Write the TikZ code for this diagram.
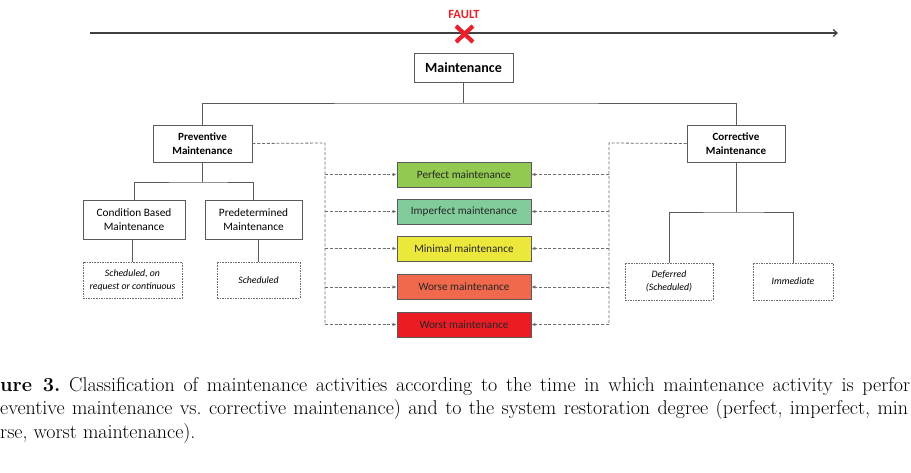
\documentclass[tikz,border=0pt]{standalone}
\usepackage{fontspec}
\newfontfamily\calib{Carlito}
\usetikzlibrary{arrows.meta}
\definecolor{linegray}{HTML}{5A5A5A}
\definecolor{dashgray}{HTML}{6E6E6E}
\definecolor{cperfect}{HTML}{92C950}
\definecolor{cimperfect}{HTML}{82CC9C}
\definecolor{cminimal}{HTML}{EBE73B}
\definecolor{cworse}{HTML}{F0694C}
\definecolor{cworst}{HTML}{EC1C24}
\definecolor{faultred}{HTML}{E8202A}
\tikzset{
  x=1pt, y=-1pt,
  mainbox/.style={draw=linegray, line width=0.9pt, fill=white, inner sep=0pt, align=center, font=\calib\bfseries},
  subbox/.style={draw=linegray, line width=0.9pt, fill=white, inner sep=0pt, align=center, font=\calib\fontsize{11.3}{13.5}\selectfont},
  leafbox/.style={draw=dashgray, line width=0.8pt, dash pattern=on 1.6pt off 1pt, inner sep=0pt, align=center, font=\calib\itshape\fontsize{9.8}{13}\selectfont},
  degbox/.style={draw=linegray, line width=0.8pt, inner sep=0pt, minimum width=134pt, minimum height=25pt, font=\calib\fontsize{11.2}{13}\selectfont, text=black!85},
  tree/.style={draw=linegray, line width=0.9pt},
  dashline/.style={draw=dashgray, line width=0.8pt, dash pattern=on 3pt off 1.8pt},
  dasharrow/.style={dashline, -{Latex[length=4pt,width=3.5pt]}},
  captxt/.style={inner sep=0pt, anchor=base west, font=\frenchspacing\fontsize{20}{24}\selectfont, text=black},
}
\begin{document}
\begin{tikzpicture}
\useasboundingbox (0,0) rectangle (911,472);
\fill[white] (0,0) rectangle (911,472);

% timeline
\coordinate (tl) at (90,33);
\coordinate (tr) at (838,33);
\draw[line width=1.2pt, draw=black!75, -{Straight Barb[length=4pt,width=7pt]}] (tl) -- (tr);
\node[font=\calib\bfseries\fontsize{12.5}{14}\selectfont, text=faultred, inner sep=0pt] (fault) at (464,14) {FAULT};
\draw[faultred, line width=4.2pt] (456,26) -- (473,42) (473,26) -- (456,42);

% main boxes
\node[mainbox, minimum width=99pt, minimum height=29pt, font=\calib\bfseries\fontsize{14}{16}\selectfont] (maint) at (463.5,68) {Maintenance};
\node[mainbox, minimum width=99pt, minimum height=37pt, font=\calib\bfseries\fontsize{11}{14}\selectfont] (prev) at (202.5,143.5) {Preventive\\Maintenance};
\node[mainbox, minimum width=98pt, minimum height=37pt, font=\calib\bfseries\fontsize{11}{14}\selectfont] (corr) at (736,143.5) {Corrective\\Maintenance};

\node[subbox, minimum width=102pt, minimum height=39pt] (cbm) at (134,219.5) {Condition Based\\Maintenance};
\node[subbox, minimum width=97pt, minimum height=39pt] (pdm) at (253.5,219.5) {Predetermined\\Maintenance};

\node[leafbox, minimum width=99pt, minimum height=36pt] (sch1) at (132.5,280) {Scheduled, on\\request or continuous};
\node[leafbox, minimum width=83pt, minimum height=36pt] (sch2) at (258.5,280) {Scheduled};
\node[leafbox, minimum width=88pt, minimum height=37pt] (def) at (669,281.5) {Deferred\\(Scheduled)};
\node[leafbox, minimum width=80pt, minimum height=37pt] (imm) at (793,281.5) {Immediate};

% degree boxes
\node[degbox, fill=cperfect] (perf) at (464,174.5) {Perfect maintenance};
\node[degbox, fill=cimperfect] (imperf) at (464,211.5) {Imperfect maintenance};
\node[degbox, fill=cminimal] (mini) at (464,248.5) {Minimal maintenance};
\node[degbox, fill=cworse] (worse) at (464,287) {Worse maintenance};
\node[degbox, fill=cworst] (worst) at (464,324.5) {Worst maintenance};

% tree connectors
\coordinate (tj) at (463.5,103);
\coordinate (pj) at (202.5,182);
\coordinate (cj) at (736,212);
\draw[tree] (maint.south) -- (tj);
\draw[tree] (prev.north) |- (tj) -| (corr.north);
\draw[tree] (prev.south) -- (pj);
\draw[tree] (cbm.north) |- (pj) -| (pdm.north);
\draw[tree] (corr.south) -- (cj);
\draw[tree] (def.north) |- (cj) -| (imm.north);
\draw[tree] (sch1.north |- cbm.south) -- (sch1.north);
\draw[tree] (sch2.north |- pdm.south) -- (sch2.north);

% dashed connectors
\coordinate (lbus) at (325,143);
\coordinate (rbus) at (609,143);
\draw[dashline] (prev.east) -- (lbus) -- (lbus |- worst.west);
\draw[dashline] (corr.west) -- (rbus) -- (rbus |- worst.east);
\foreach \b in {perf,imperf,mini,worse,worst}{
  \draw[dasharrow] (lbus |- \b.west) -- (\b.west);
  \draw[dasharrow] (rbus |- \b.east) -- (\b.east);
}

% caption
\node[captxt] (cap1) at (0,391) {\makebox[910pt][s]{\textbf{ure 3.} Classification of maintenance activities according to the time in which maintenance activity is perfor}};
\node[captxt] (cap2) at (0,414.5) {\makebox[908pt][s]{eventive maintenance vs. corrective maintenance) and to the system restoration degree (perfect, imperfect, min}};
\node[captxt] (cap3) at (0,438) {rse, worst maintenance).};
\end{tikzpicture}
\end{document}
